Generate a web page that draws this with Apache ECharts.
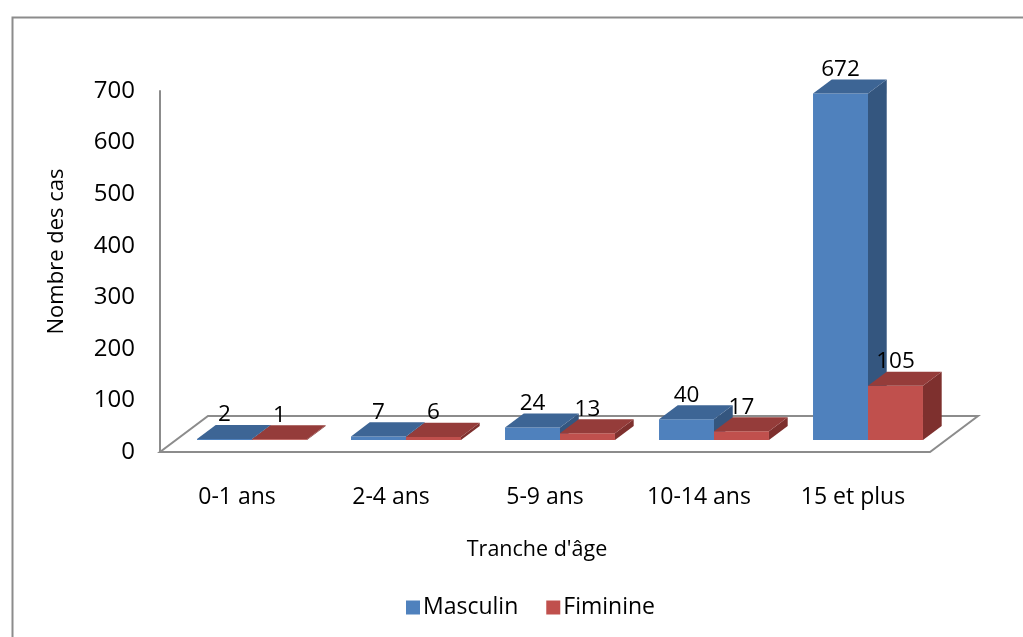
<!DOCTYPE html>
<html>
<head>
<meta charset="utf-8">
<script src="https://cdn.jsdelivr.net/npm/echarts@6/dist/echarts.min.js"></script>
<style>
  html, body { margin: 0; padding: 0; background: #ffffff; }
  #chart { width: 1023px; height: 637px; }
</style>
</head>
<body>
<div id="chart"></div>
<script>
// Cases by age group and sex
const categories = ['0-1 ans', '2-4 ans', '5-9 ans', '10-14 ans', '15 et plus'];
const masculin = [2, 7, 24, 40, 672];
const fiminine = [1, 6, 13, 17, 105];
const yMin = 0, yMax = 700, yStep = 100;

const FONT = 'Open Sans';
const GRAY = '#8c8c8c';

// pseudo-3D geometry: floor depth vector (px) and bar placement inside it
const DEPTH_X = 48, DEPTH_Y = -36;
const BAR_FRONT = 1 / 3;   // bars start one third into the floor depth
const BAR_DEPTH = 0.39;    // bar depth as a share of the floor depth
const BAR_W = 0.357;       // bar width as a share of the category band

const palette = {
  Masculin: { front: '#4F81BD', top: '#3D6595', side: '#34567F' },
  Fiminine: { front: '#C0504D', top: '#953C3A', side: '#7E302E' }
};

function makeBarRenderer(side, colors) {
  return function (params, api) {
    const idx = api.value(0);
    const v = api.value(1);
    const top = api.coord([idx, v]);
    const base = api.coord([idx, 0]);
    const band = api.size([1, 0])[0];
    const w = band * BAR_W;
    const ox = DEPTH_X * BAR_FRONT, oy = DEPTH_Y * BAR_FRONT;
    const dx = DEPTH_X * BAR_DEPTH, dy = DEPTH_Y * BAR_DEPTH;
    const x0 = base[0] + ox + (side === 0 ? -w : 0) - 1;
    const x1 = x0 + w;
    const yb = base[1] + oy;
    const yt = Math.min(top[1] + oy, yb - 0.8);
    return {
      type: 'group',
      children: [
        { type: 'rect', shape: { x: x0, y: yt, width: w, height: yb - yt },
          style: { fill: colors.front } },
        { type: 'polygon', shape: { points: [[x1, yt], [x1, yb], [x1 + dx, yb + dy], [x1 + dx, yt + dy]] },
          style: { fill: colors.side } },
        { type: 'polygon', shape: { points: [[x0, yt], [x1, yt], [x1 + dx, yt + dy], [x0 + dx, yt + dy]] },
          style: { fill: colors.top } },
        { type: 'text', style: {
            text: String(v), x: (x0 + x1) / 2, y: yt + dy - 10,
            align: 'center', verticalAlign: 'middle',
            fontFamily: FONT, fontSize: 22.5, fill: '#000000' } }
      ]
    };
  };
}

function floorRenderer(params, api) {
  const cs = params.coordSys;
  const fx = cs.x, fy = cs.y + cs.height, fw = cs.width;
  return {
    type: 'polygon',
    shape: { points: [[fx, fy], [fx + fw, fy], [fx + fw + DEPTH_X, fy + DEPTH_Y], [fx + DEPTH_X, fy + DEPTH_Y]] },
    style: { fill: '#ffffff', stroke: GRAY, lineWidth: 2 }
  };
}

const chart = echarts.init(document.getElementById('chart'));
chart.setOption({
  backgroundColor: '#ffffff',
  animation: false,
  textStyle: { fontFamily: FONT },
  graphic: [{
    type: 'rect', left: 10, top: 15,
    shape: { width: 1100, height: 700 },
    style: { fill: 'none', stroke: GRAY, lineWidth: 2 }
  }],
  grid: { left: 160, right: 93, top: 91, bottom: 185 },
  legend: {
    left: 401, top: 591,
    icon: 'rect', itemWidth: 14, itemHeight: 14, itemGap: 28,
    textStyle: { fontFamily: FONT, fontSize: 23, color: '#000000', padding: [0, 0, 0, -2] },
    data: ['Masculin', 'Fiminine']
  },
  xAxis: {
    type: 'category',
    data: categories,
    axisLine: { show: false },
    axisTick: { show: false },
    axisLabel: { fontFamily: FONT, fontSize: 23, color: '#000000', margin: 34 },
    name: "Tranche d'âge",
    nameLocation: 'middle',
    nameGap: 87,
    nameTextStyle: { fontFamily: FONT, fontSize: 21.5, color: '#000000', padding: [0, 16, 0, 0] }
  },
  yAxis: {
    type: 'value',
    min: yMin, max: yMax, interval: yStep,
    axisLine: { show: true, lineStyle: { color: GRAY, width: 2 } },
    axisTick: { show: false },
    splitLine: { show: false },
    axisLabel: { fontFamily: FONT, fontSize: 24, color: '#000000', margin: 25 },
    name: 'Nombre des cas',
    nameLocation: 'middle',
    nameGap: 92,
    nameTextStyle: { fontFamily: FONT, fontSize: 22, color: '#000000', padding: [0, 0, 0, 40] }
  },
  series: [
    { type: 'custom', name: 'floor', z: 1, silent: true,
      renderItem: floorRenderer, data: [[0, 0]], encode: { x: 0, y: 1 } },
    { type: 'custom', name: 'Masculin', z: 2,
      itemStyle: { color: palette.Masculin.front },
      renderItem: makeBarRenderer(0, palette.Masculin),
      data: masculin.map((v, i) => [i, v]), encode: { x: 0, y: 1 } },
    { type: 'custom', name: 'Fiminine', z: 3,
      itemStyle: { color: palette.Fiminine.front },
      renderItem: makeBarRenderer(1, palette.Fiminine),
      data: fiminine.map((v, i) => [i, v]), encode: { x: 0, y: 1 } }
  ]
});
</script>
</body>
</html>
